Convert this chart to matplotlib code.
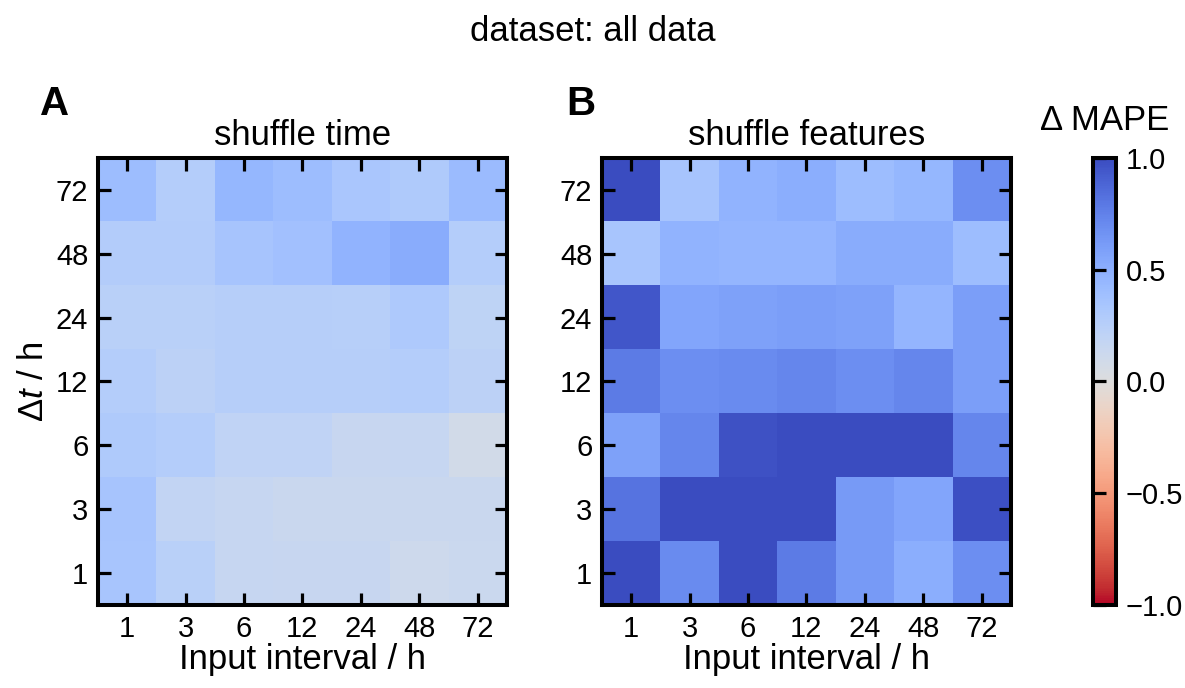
import numpy as np
import matplotlib
matplotlib.use('Agg')
import matplotlib.pyplot as plt

plt.rcParams['font.family'] = ['Liberation Sans', 'DejaVu Sans']
plt.rcParams['mathtext.fontset'] = 'custom'
plt.rcParams['mathtext.rm'] = 'Liberation Sans'
plt.rcParams['mathtext.it'] = 'Liberation Sans:italic'

# eixos: intervalo de entrada (x) e horizonte de previsão (y)
intervalos = ['1', '3', '6', '12', '24', '48', '72']
horizontes = ['1', '3', '6', '12', '24', '48', '72']

# Δ MAPE, linhas de baixo (Δt=1) para cima (Δt=72)
shuffle_time = np.array([
    [0.34, 0.24, 0.16, 0.15, 0.15, 0.11, 0.13],
    [0.35, 0.18, 0.16, 0.14, 0.14, 0.14, 0.14],
    [0.30, 0.27, 0.20, 0.20, 0.15, 0.16, 0.08],
    [0.27, 0.22, 0.26, 0.26, 0.26, 0.27, 0.22],
    [0.24, 0.24, 0.26, 0.26, 0.25, 0.31, 0.21],
    [0.28, 0.28, 0.35, 0.38, 0.47, 0.52, 0.27],
    [0.40, 0.27, 0.45, 0.40, 0.33, 0.30, 0.42],
])
shuffle_features = np.array([
    [1.00, 0.70, 1.00, 0.78, 0.62, 0.50, 0.68],
    [0.82, 1.00, 1.00, 1.00, 0.62, 0.56, 0.98],
    [0.58, 0.72, 0.97, 1.00, 1.00, 1.00, 0.72],
    [0.78, 0.68, 0.70, 0.72, 0.68, 0.72, 0.60],
    [0.95, 0.56, 0.58, 0.60, 0.58, 0.46, 0.60],
    [0.34, 0.47, 0.46, 0.46, 0.52, 0.52, 0.40],
    [1.00, 0.35, 0.47, 0.50, 0.40, 0.45, 0.68],
])

fig = plt.figure(figsize=(11.85, 6.88), dpi=100)
axA = fig.add_axes([0.0827, 0.1206, 0.345, 0.65])
axB = fig.add_axes([0.508, 0.1206, 0.345, 0.65])
cax = fig.add_axes([0.9225, 0.1206, 0.0194, 0.65])

for ax, dados, titulo in [(axA, shuffle_time, 'shuffle time'),
                          (axB, shuffle_features, 'shuffle features')]:
    im = ax.imshow(dados, cmap='coolwarm_r', vmin=-1, vmax=1,
                   origin='lower', aspect='auto')
    ax.set_xticks(range(len(intervalos)))
    ax.set_xticklabels(intervalos)
    ax.set_yticks(range(len(horizontes)))
    ax.set_yticklabels(horizontes)
    ax.tick_params(direction='in', length=9, width=2.3, labelsize=21,
                   top=True, right=True, pad=7)
    for s in ax.spines.values():
        s.set_linewidth(2.9)
    ax.set_title(titulo, fontsize=25, pad=9)
    ax.set_xlabel('Input interval / h', fontsize=25, labelpad=0)

axA.set_ylabel(r'$\Delta t$ / h', fontsize=25, labelpad=4)

cb = fig.colorbar(im, cax=cax, ticks=[-1, -0.5, 0, 0.5, 1])
cb.ax.tick_params(direction='in', length=9, width=2.3, labelsize=21,
                  left=True, right=False, labelright=True, pad=7)
cb.outline.set_linewidth(2.9)
cax.set_yticklabels(['\u22121.0', '\u22120.5', '0.0', '0.5', '1.0'])
cax.set_title('\u0394 MAPE', fontsize=25, pad=20)

fig.text(0.034, 0.833, 'A', fontsize=29, fontweight='bold')
fig.text(0.478, 0.833, 'B', fontsize=29, fontweight='bold')
fig.suptitle('dataset: all data', fontsize=25, y=0.978)

fig.savefig('out.png', dpi=100)
